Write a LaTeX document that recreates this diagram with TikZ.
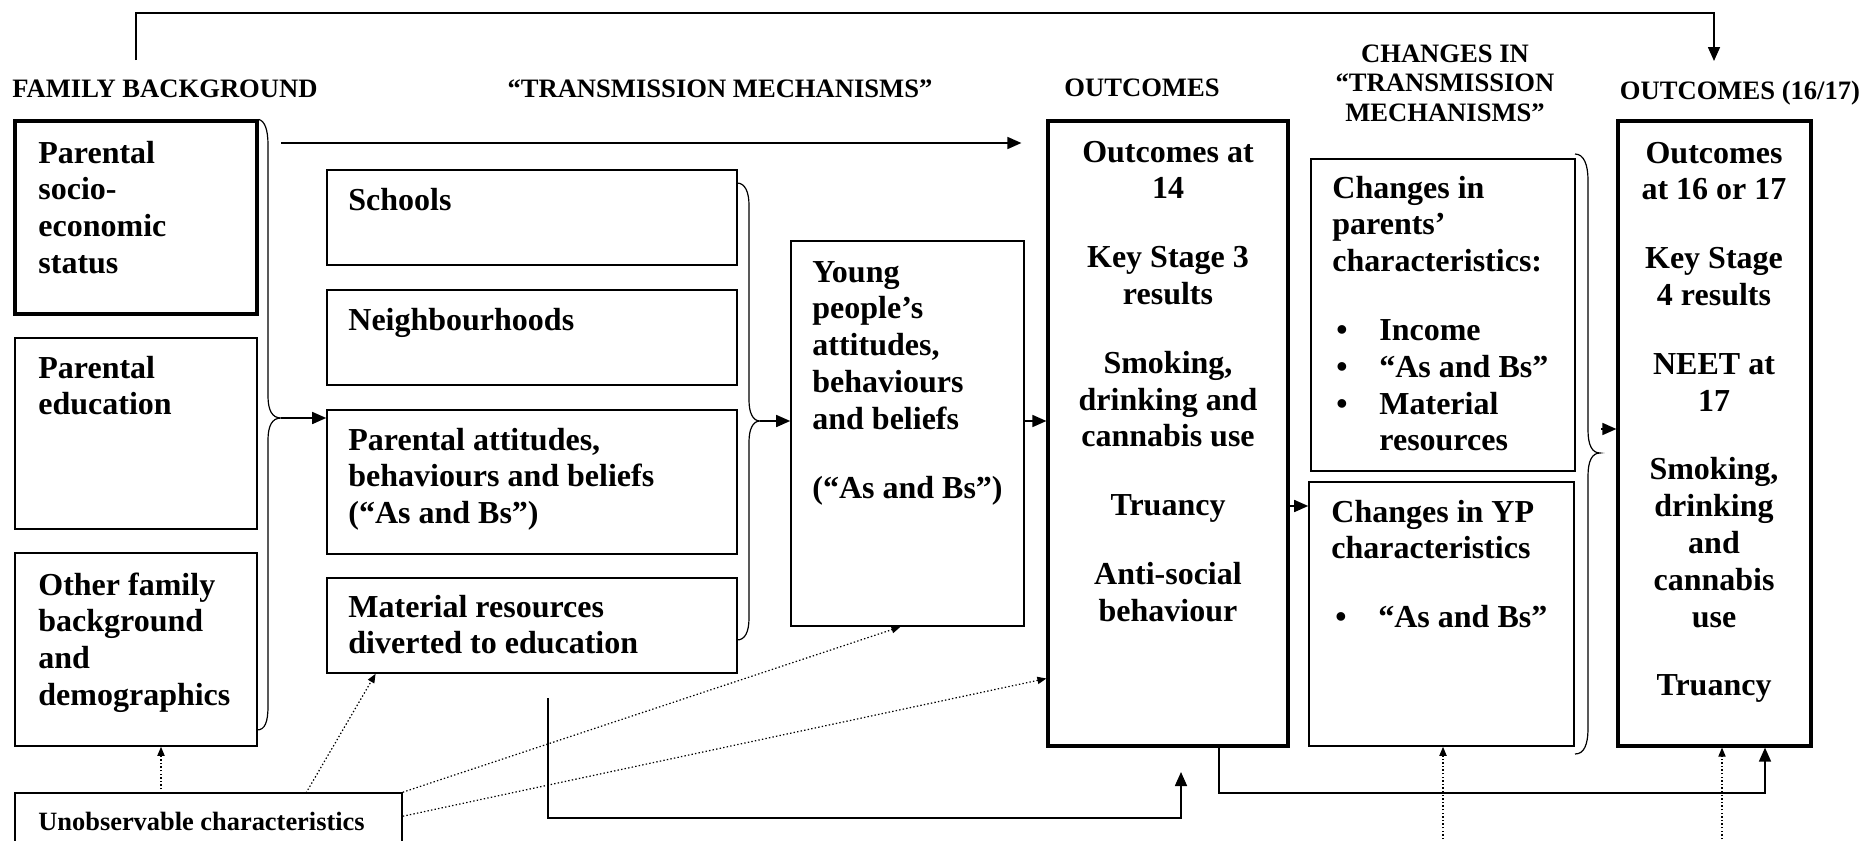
\documentclass[tikz,border=0pt]{standalone}
\usepackage{fontspec}
\setmainfont{Liberation Serif}
\usetikzlibrary{arrows.meta,fit,calc}
\begin{document}
\begin{tikzpicture}[x=0.5pt,y=-0.5pt,
  box/.style={draw, line width=0.8pt, inner sep=0pt},
  thickbox/.style={draw, line width=1.6pt, inner sep=0pt},
  body/.style={font=\bfseries\fontsize{16}{18.4}\selectfont, inner sep=0pt, align=left, anchor=base west},
  bodyc/.style={font=\bfseries\fontsize{16}{18.4}\selectfont, inner sep=0pt, align=center, anchor=base},
  head/.style={font=\bfseries\fontsize{13.3}{14.75}\selectfont, inner sep=0pt, align=center, anchor=base},
  conn/.style={line width=0.8pt},
  arr/.style={conn, -{Triangle[length=7pt,width=6pt]}},
  dotarr/.style={line width=0.6pt, dash pattern=on 0.7pt off 1.1pt, -{Triangle[length=4.5pt,width=3.6pt]}},
  bracel/.style={line width=0.6pt},
]
\clip (0,0) rectangle (1865,841);
\fill[white] (0,0) rectangle (1865,841);

% headers (anchor = baseline of last line)
\node[head, anchor=base west] (hfam) at (12,97) {FAMILY BACKGROUND};
\node[head] (htm) at (720,97) {“TRANSMISSION MECHANISMS”};
\node[head] (hout) at (1142,96) {OUTCOMES};
\node[head] (hch) at (1445,121) {CHANGES IN\\“TRANSMISSION\\MECHANISMS”};
\node[head] (hout2) at (1740,99) {OUTCOMES (16/17)};

% boxes
\node[thickbox, fit={(15,121)(257,314)}] (pses) {};
\node[box, fit={(15,338)(257,529)}] (pe) {};
\node[box, fit={(15,553)(257,746)}] (of) {};
\node[box, fit={(15,793)(402,880)}] (unobs) {};
\node[box, fit={(327,170)(737,265)}] (sch) {};
\node[box, fit={(327,290)(737,385)}] (nb) {};
\node[box, fit={(327,410)(737,554)}] (patt) {};
\node[box, fit={(327,578)(737,673)}] (mat) {};
\node[box, fit={(791,241)(1024,626)}] (yp) {};
\node[thickbox, fit={(1048,121)(1288,746)}] (o14) {};
\node[box, fit={(1311,159)(1575,471)}] (cp) {};
\node[box, fit={(1309,482)(1574,746)}] (cyp) {};
\node[thickbox, fit={(1618,121)(1811,746)}] (o16) {};

% texts (placed at the baseline of their last line)
\node[body] (tpses) at (38,273.4) {Parental\\socio-\\economic\\status};
\node[body] (tpe) at (38,414.8) {Parental\\education};
\node[body] (tof) at (38,705.4) {Other family\\background\\and\\demographics};
\node[body, font=\bfseries\fontsize{13.2}{15}\selectfont] (tun) at (38,830) {Unobservable characteristics};
\node[body] (tsch) at (348,210) {Schools};
\node[body] (tnb) at (348,330) {Neighbourhoods};
\node[body] (tpatt) at (348,523.6) {Parental attitudes,\\behaviours and beliefs\\(“As and Bs”)};
\node[body] (tmat) at (348,653.8) {Material resources\\diverted to education};
\node[body] (typ) at (812,498) {Young\\people’s\\attitudes,\\behaviours\\and beliefs\\[16pt](“As and Bs”)};
\node[bodyc] (to14) at (1168,621.2) {Outcomes at\\14\\[16pt]Key Stage 3\\results\\[16pt]Smoking,\\drinking and\\cannabis use\\[16pt]Truancy\\[16pt]Anti-social\\behaviour};
\node[body] (tcp) at (1332,450.8) {Changes in\\parents’\\characteristics:\\[16pt]\hspace*{2pt}\makebox[21.5pt][l]{\textbullet}Income\\\hspace*{2pt}\makebox[21.5pt][l]{\textbullet}“As and Bs”\\\hspace*{2pt}\makebox[21.5pt][l]{\textbullet}Material\\\hspace*{23.5pt}resources};
\node[body] (tcyp) at (1331,627.6) {Changes in YP\\characteristics\\[16pt]\hspace*{2pt}\makebox[21.5pt][l]{\textbullet}“As and Bs”};
\node[bodyc] (to16) at (1714,695.8) {Outcomes\\at 16 or 17\\[16pt]Key Stage\\4 results\\[16pt]NEET at\\17\\[16pt]Smoking,\\drinking\\and\\cannabis\\use\\[16pt]Truancy};

% braces
\coordinate (b1) at (281,418);
\coordinate (b2) at (760,421);
\coordinate (b3) at (1600,453);
\draw[bracel] (pses.north east) .. controls (265,121) and (268,130) .. (268,145) -- (268,396)
  .. controls (268,410) and (272,418) .. (b1)
  .. controls (272,418) and (268,426) .. (268,440) -- (268,706)
  .. controls (268,722) and (265,730) .. (257,730);
\draw[bracel] (737,183) .. controls (745,183) and (749,192) .. (749,205) -- (749,400)
  .. controls (749,413) and (753,421) .. (b2)
  .. controls (753,421) and (749,429) .. (749,442) -- (749,618)
  .. controls (749,632) and (745,640) .. (737,640);
\draw[bracel] (1575,154) .. controls (1584,154) and (1588,165) .. (1588,180) -- (1588,430)
  .. controls (1588,445) and (1592,453) .. (b3)
  .. controls (1592,453) and (1588,461) .. (1588,476) -- (1588,728)
  .. controls (1588,745) and (1584,754) .. (1575,754);

% solid connectors
\draw[arr] (b1) -- (b1 -| patt.west);
\draw[arr] (b2) -- (b2 -| yp.west);
\draw[arr] (b2 -| yp.east) -- (b2 -| o14.west);
\coordinate (lt) at (281,143);
\draw[arr, shorten >=12.5pt] (lt) -- (lt -| o14.west);
\coordinate (m3) at (1288,506);
\draw[arr] (m3) -- (m3 -| cyp.west);
\coordinate (m4) at (1601,429);
\draw[arr] (m4) -- (m4 -| o16.west);
\coordinate (fb) at (136,60);
\coordinate (fbend) at (1714,61);
\draw[arr] (fb) -- (136,13) -| (fbend);
\coordinate (ms) at (548,698);
\coordinate (me) at (1181,772);
\draw[arr] (ms) |- (me |- 0,818) -- (me);
\coordinate (q) at (1219,793);
\coordinate (r) at (1765,793);
\draw[arr] (q |- o14.south) -- (q) -- (r) -- (r |- o16.south);

% dotted connectors
\coordinate (u1) at (161,793);
\draw[dotarr] (u1) -- (u1 |- of.south);
\draw[dotarr] (306,793) -- ($(mat.south west)!0.12!(mat.south east)$);
\draw[dotarr] (unobs.north east) -- ($(yp.south west)!0.47!(yp.south east)$);
\draw[dotarr] ($(unobs.north east)+(0,24)$) -- ($(o14.north west)!0.89!(o14.south west)$);
\coordinate (d1) at (1443,850);
\draw[dotarr] (d1) -- (d1 |- cyp.south);
\coordinate (d2) at (1722,850);
\draw[dotarr] (d2) -- (d2 |- o16.south);
\end{tikzpicture}
\end{document}
